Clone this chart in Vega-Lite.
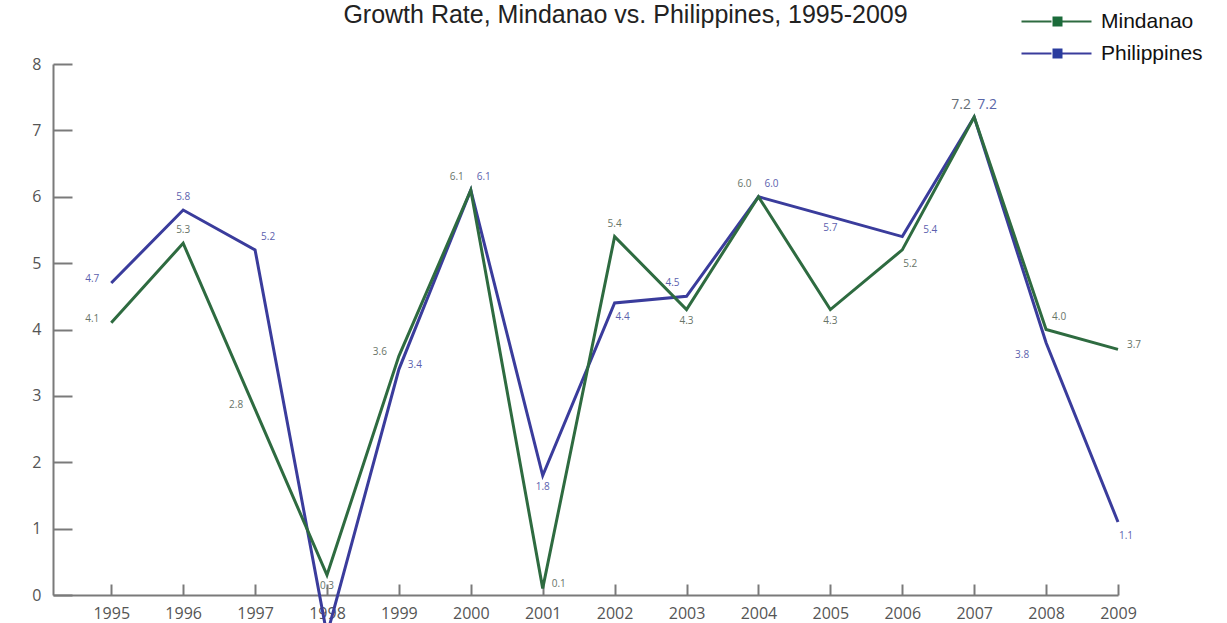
{
  "$schema": "https://vega.github.io/schema/vega-lite/v6.json",
  "width": 1065,
  "height": 531,
  "autosize": {"type": "none"},
  "padding": {"left": 53, "top": 64, "right": 109, "bottom": 28},
  "background": "white",
  "title": {
    "text": "Growth Rate, Mindanao vs. Philippines, 1995-2009",
    "font": "Liberation Sans",
    "fontSize": 25,
    "fontWeight": "normal",
    "color": "#222222",
    "anchor": "middle",
    "frame": "group",
    "baseline": "alphabetic",
    "offset": -37,
    "dx": 40
  },
  "config": {
    "view": {"stroke": null},
    "axis": {
      "domainColor": "#7a7a7a",
      "domainWidth": 2,
      "tickColor": "#7a7a7a",
      "tickWidth": 2,
      "labelFont": "Open Sans",
      "labelFontSize": 16,
      "labelColor": "#555555",
      "grid": false,
      "title": null
    }
  },
  "data": {
    "values": [
      {"year": 1995, "series": "Philippines", "value": 4.7},
      {"year": 1996, "series": "Philippines", "value": 5.8},
      {"year": 1997, "series": "Philippines", "value": 5.2},
      {"year": 1998, "series": "Philippines", "value": -0.6},
      {"year": 1999, "series": "Philippines", "value": 3.4},
      {"year": 2000, "series": "Philippines", "value": 6.1},
      {"year": 2001, "series": "Philippines", "value": 1.8},
      {"year": 2002, "series": "Philippines", "value": 4.4},
      {"year": 2003, "series": "Philippines", "value": 4.5},
      {"year": 2004, "series": "Philippines", "value": 6.0},
      {"year": 2005, "series": "Philippines", "value": 5.7},
      {"year": 2006, "series": "Philippines", "value": 5.4},
      {"year": 2007, "series": "Philippines", "value": 7.2},
      {"year": 2008, "series": "Philippines", "value": 3.8},
      {"year": 2009, "series": "Philippines", "value": 1.1},
      {"year": 1995, "series": "Mindanao", "value": 4.1},
      {"year": 1996, "series": "Mindanao", "value": 5.3},
      {"year": 1997, "series": "Mindanao", "value": 2.8},
      {"year": 1998, "series": "Mindanao", "value": 0.3},
      {"year": 1999, "series": "Mindanao", "value": 3.6},
      {"year": 2000, "series": "Mindanao", "value": 6.1},
      {"year": 2001, "series": "Mindanao", "value": 0.1},
      {"year": 2002, "series": "Mindanao", "value": 5.4},
      {"year": 2003, "series": "Mindanao", "value": 4.3},
      {"year": 2004, "series": "Mindanao", "value": 6.0},
      {"year": 2005, "series": "Mindanao", "value": 4.3},
      {"year": 2006, "series": "Mindanao", "value": 5.2},
      {"year": 2007, "series": "Mindanao", "value": 7.2},
      {"year": 2008, "series": "Mindanao", "value": 4.0},
      {"year": 2009, "series": "Mindanao", "value": 3.7}
    ]
  },
  "encoding": {
    "x": {
      "field": "year",
      "type": "quantitative",
      "scale": {"domain": [1994.19, 2009], "nice": false, "zero": false},
      "axis": {
        "values": [1995, 1996, 1997, 1998, 1999, 2000, 2001, 2002, 2003, 2004, 2005, 2006, 2007, 2008, 2009],
        "format": "d",
        "tickSize": -11,
        "labelPadding": 21,
        "labelFlush": false,
        "labelOverlap": false
      }
    },
    "y": {
      "field": "value",
      "type": "quantitative",
      "scale": {"domain": [0, 8], "nice": false, "zero": false},
      "axis": {
        "values": [0, 1, 2, 3, 4, 5, 6, 7, 8],
        "tickSize": -19,
        "labelPadding": 31,
        "labelFlush": false,
        "labelOverlap": false
      }
    }
  },
  "layer": [
    {
      "mark": {"type": "line", "strokeWidth": 3, "clip": false},
      "encoding": {
        "color": {
          "field": "series",
          "type": "nominal",
          "scale": {"domain": ["Mindanao", "Philippines"], "range": ["#2e6b40", "#3a3c9c"]},
          "legend": {
            "orient": "none",
            "legendX": 993,
            "legendY": -53,
            "title": null,
            "padding": 0,
            "symbolType": "M-7,0H-1M1,0H7",
            "symbolSize": 100,
            "symbolStrokeWidth": 2,
            "labelFont": "Liberation Sans",
            "labelFontSize": 21,
            "labelColor": "#111111",
            "labelOffset": 34,
            "rowPadding": 10,
            "encode": {
              "symbols": {
                "update": {
                  "stroke": {"signal": "datum.value === 'Philippines' ? '#111111' : '#1f7a48'"}
                }
              }
            }
          }
        }
      }
    },
    {
      "mark": {"type": "point", "filled": true, "opacity": 0, "shape": "square"},
      "encoding": {
        "fill": {
          "field": "series",
          "type": "nominal",
          "scale": {"domain": ["Philippines", "Mindanao"], "range": ["#2a3c9e", "#1b6b3a"]},
          "legend": {
            "orient": "none",
            "legendX": 994,
            "legendY": -53,
            "title": null,
            "padding": 0,
            "values": ["Mindanao", "Philippines"],
            "symbolType": "square",
            "symbolSize": 100,
            "symbolOpacity": 1,
            "symbolStrokeWidth": 0,
            "labelFont": "Liberation Sans",
            "labelFontSize": 21,
            "labelOpacity": 0,
            "labelOffset": 34,
            "rowPadding": 10
          }
        }
      }
    },
    {
      "transform": [{"filter": "indexof(['P1996','M1996','M2002'], substring(datum.series,0,1) + datum.year) >= 0"}],
      "mark": {"type": "text", "font": "Open Sans", "fontSize": 10, "align": "center", "baseline": "middle", "dx": 0, "dy": -13},
      "encoding": {
        "text": {"field": "value", "type": "quantitative", "format": ".1f"},
        "color": {"condition": {"test": "datum.series === 'Philippines'", "value": "#5c5fae"}, "value": "#687468"}
      }
    },
    {
      "transform": [{"filter": "indexof(['P1997','P2000','P2004','M2008'], substring(datum.series,0,1) + datum.year) >= 0"}],
      "mark": {"type": "text", "font": "Open Sans", "fontSize": 10, "align": "center", "baseline": "middle", "dx": 13, "dy": -13},
      "encoding": {
        "text": {"field": "value", "type": "quantitative", "format": ".1f"},
        "color": {"condition": {"test": "datum.series === 'Philippines'", "value": "#5c5fae"}, "value": "#687468"}
      }
    },
    {
      "transform": [{"filter": "indexof(['M2000','M2004','P2003'], substring(datum.series,0,1) + datum.year) >= 0"}],
      "mark": {"type": "text", "font": "Open Sans", "fontSize": 10, "align": "center", "baseline": "middle", "dx": -14, "dy": -13},
      "encoding": {
        "text": {"field": "value", "type": "quantitative", "format": ".1f"},
        "color": {"condition": {"test": "datum.series === 'Philippines'", "value": "#5c5fae"}, "value": "#687468"}
      }
    },
    {
      "transform": [{"filter": "indexof(['P2001','P2005','M2003','M2005','M1998'], substring(datum.series,0,1) + datum.year) >= 0"}],
      "mark": {"type": "text", "font": "Open Sans", "fontSize": 10, "align": "center", "baseline": "middle", "dx": 0, "dy": 11},
      "encoding": {
        "text": {"field": "value", "type": "quantitative", "format": ".1f"},
        "color": {"condition": {"test": "datum.series === 'Philippines'", "value": "#5c5fae"}, "value": "#687468"}
      }
    },
    {
      "transform": [{"filter": "indexof(['P2002','P2009','M2006'], substring(datum.series,0,1) + datum.year) >= 0"}],
      "mark": {"type": "text", "font": "Open Sans", "fontSize": 10, "align": "center", "baseline": "middle", "dx": 8, "dy": 14},
      "encoding": {
        "text": {"field": "value", "type": "quantitative", "format": ".1f"},
        "color": {"condition": {"test": "datum.series === 'Philippines'", "value": "#5c5fae"}, "value": "#687468"}
      }
    },
    {
      "transform": [{"filter": "indexof(['P1995','M1995','M1997','M1999'], substring(datum.series,0,1) + datum.year) >= 0"}],
      "mark": {"type": "text", "font": "Open Sans", "fontSize": 10, "align": "center", "baseline": "middle", "dx": -19, "dy": -4},
      "encoding": {
        "text": {"field": "value", "type": "quantitative", "format": ".1f"},
        "color": {"condition": {"test": "datum.series === 'Philippines'", "value": "#5c5fae"}, "value": "#687468"}
      }
    },
    {
      "transform": [{"filter": "indexof(['P1999','M2001','M2009'], substring(datum.series,0,1) + datum.year) >= 0"}],
      "mark": {"type": "text", "font": "Open Sans", "fontSize": 10, "align": "center", "baseline": "middle", "dx": 16, "dy": -4},
      "encoding": {
        "text": {"field": "value", "type": "quantitative", "format": ".1f"},
        "color": {"condition": {"test": "datum.series === 'Philippines'", "value": "#5c5fae"}, "value": "#687468"}
      }
    },
    {
      "transform": [{"filter": "indexof(['P2006'], substring(datum.series,0,1) + datum.year) >= 0"}],
      "mark": {"type": "text", "font": "Open Sans", "fontSize": 10, "align": "center", "baseline": "middle", "dx": 28, "dy": -7},
      "encoding": {
        "text": {"field": "value", "type": "quantitative", "format": ".1f"},
        "color": {"value": "#5c5fae"}
      }
    },
    {
      "transform": [{"filter": "indexof(['P2008'], substring(datum.series,0,1) + datum.year) >= 0"}],
      "mark": {"type": "text", "font": "Open Sans", "fontSize": 10, "align": "center", "baseline": "middle", "dx": -24, "dy": 12},
      "encoding": {
        "text": {"field": "value", "type": "quantitative", "format": ".1f"},
        "color": {"value": "#5c5fae"}
      }
    },
    {
      "transform": [{"filter": "datum.year === 2007 && datum.series === 'Mindanao'"}],
      "mark": {"type": "text", "font": "Open Sans", "fontSize": 14, "align": "center", "baseline": "middle", "dx": -13, "dy": -12},
      "encoding": {
        "text": {"field": "value", "type": "quantitative", "format": ".1f"},
        "color": {"value": "#666e74"}
      }
    },
    {
      "transform": [{"filter": "datum.year === 2007 && datum.series === 'Philippines'"}],
      "mark": {"type": "text", "font": "Open Sans", "fontSize": 14, "align": "center", "baseline": "middle", "dx": 13, "dy": -12},
      "encoding": {
        "text": {"field": "value", "type": "quantitative", "format": ".1f"},
        "color": {"value": "#5a66a8"}
      }
    }
  ]
}
